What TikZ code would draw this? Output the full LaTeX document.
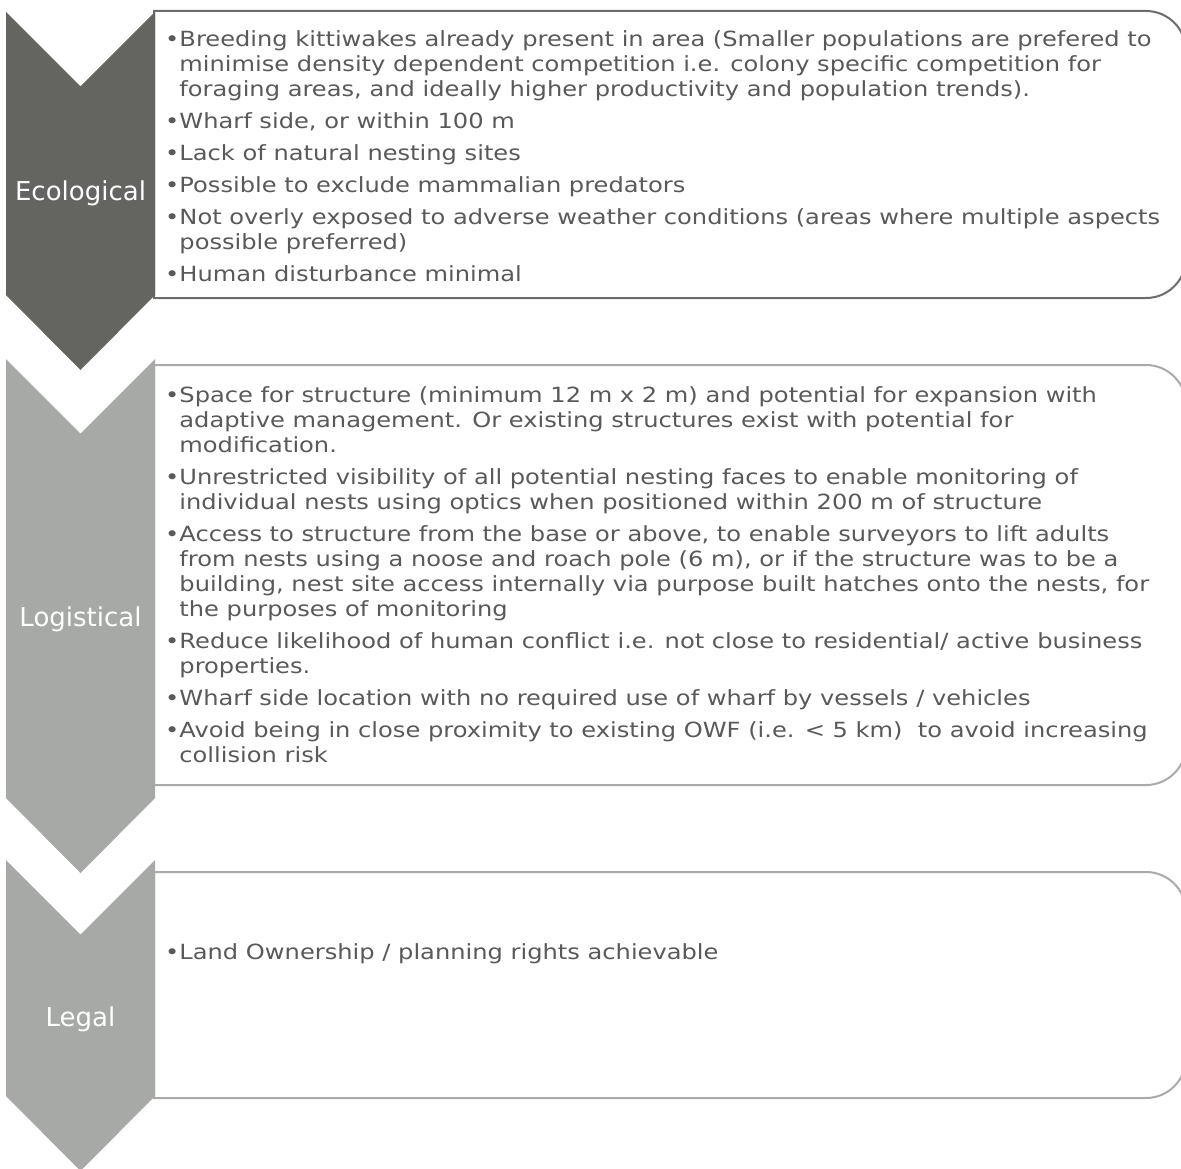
\documentclass[tikz,border=0pt]{standalone}
\usepackage{fontspec}
\setmainfont{DejaVu Sans}
\newfontfamily\bodyfam[FakeStretch=1.155]{DejaVu Sans}
\definecolor{chevdark}{RGB}{100,101,97}
\definecolor{chevlight}{RGB}{167,169,166}
\definecolor{linedark}{RGB}{108,109,106}
\definecolor{linelight}{RGB}{170,171,168}
\definecolor{txtgray}{RGB}{89,89,89}
\newcommand\bodyfont{\bodyfam\fontsize{20.9}{25}\selectfont}
\newcommand\bl{•}
\newcommand\ind{\hphantom{•}}
\tikzset{
  boxline/.style={line width=2pt},
  bodytext/.style={inner sep=0pt, anchor=base west, text=txtgray, font=\bodyfont},
  chevlabel/.style={inner sep=0pt, text=white, font=\fontsize{26}{30}\selectfont}
}
\begin{document}
\begin{tikzpicture}[x=1pt,y=-1pt]
\useasboundingbox (0,0) rectangle (1181,1169);
\fill[white] (0,0) rectangle (1181,1169);

% ---- boxes ----
\draw[boxline, draw=linedark] (154,298) -- (154,11) -- (1146,11)
  arc[start angle=90, end angle=0, radius=40pt] -- (1186,258)
  arc[start angle=0, end angle=-90, radius=40pt] -- cycle;
\draw[boxline, draw=linelight] (154,785) -- (154,365) -- (1146,365)
  arc[start angle=90, end angle=0, radius=40pt] -- (1186,745)
  arc[start angle=0, end angle=-90, radius=40pt] -- cycle;
\draw[boxline, draw=linelight] (154,1098) -- (154,872) -- (1146,872)
  arc[start angle=90, end angle=0, radius=40pt] -- (1186,1058)
  arc[start angle=0, end angle=-90, radius=40pt] -- cycle;

% ---- chevrons ----
\fill[chevdark] (6,12) -- (80.5,86.5) -- (155,12) -- (155,295) -- (80.5,370) -- (6,295) -- cycle;
\fill[chevlight] (6,359) -- (80.5,433.5) -- (155,359) -- (155,798) -- (80.5,873) -- (6,798) -- cycle;
\fill[chevlight] (6,860) -- (80.5,934.5) -- (155,860) -- (155,1096) -- (80.5,1171) -- (6,1096) -- cycle;

\node[chevlabel] (l1) at (80.5,193) {Ecological};
\node[chevlabel] (l2) at (80.5,619) {Logistical};
\node[chevlabel] (l3) at (80.5,1019) {Legal};

% ---- texts ----
\node[bodytext] (t1) at (165,47) {\parbox[t]{1100pt}{\raggedright\bodyfont
\bl Breeding kittiwakes already present in area (Smaller populations are prefered to\\
\ind minimise density dependent competition i.e. colony specific competition for\\
\ind foraging areas, and ideally higher productivity and population trends).\\[7pt]
\bl Wharf side, or within 100 m\\[7pt]
\bl Lack of natural nesting sites\\[7pt]
\bl Possible to exclude mammalian predators\\[7pt]
\bl Not overly exposed to adverse weather conditions (areas where multiple aspects\\
\ind possible preferred)\\[7pt]
\bl Human disturbance minimal}};

\node[bodytext] (t2) at (165,402) {\parbox[t]{1100pt}{\raggedright\bodyfont
\bl Space for structure (minimum 12 m x 2 m) and potential for expansion with\\
\ind adaptive management. Or existing structures exist with potential for\\
\ind modification.\\[7pt]
\bl Unrestricted visibility of all potential nesting faces to enable monitoring of\\
\ind individual nests using optics when positioned within 200 m of structure\\[7pt]
\bl Access to structure from the base or above, to enable surveyors to lift adults\\
\ind from nests using a noose and roach pole (6 m), or if the structure was to be a\\
\ind building, nest site access internally via purpose built hatches onto the nests, for\\
\ind the purposes of monitoring\\[7pt]
\bl Reduce likelihood of human conflict i.e. not close to residential/ active business\\
\ind properties.\\[7pt]
\bl Wharf side location with no required use of wharf by vessels / vehicles\\[7pt]
\bl Avoid being in close proximity to existing OWF (i.e. < 5 km)\ \ to avoid increasing\\
\ind collision risk}};

\node[bodytext] (t3) at (165,959) {\parbox[t]{1100pt}{\raggedright\bodyfont
\bl Land Ownership / planning rights achievable}};
\end{tikzpicture}
\end{document}
